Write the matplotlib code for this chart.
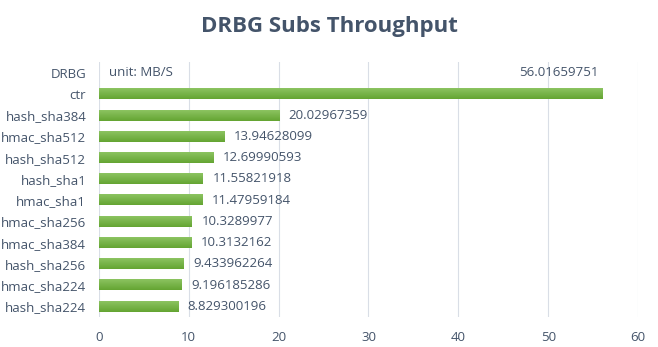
import matplotlib.pyplot as plt
import numpy as np
from matplotlib.colors import LinearSegmentedColormap

categories = ['DRBG', 'ctr', 'hash_sha384', 'hmac_sha512', 'hash_sha512', 'hash_sha1',
              'hmac_sha1', 'hmac_sha256', 'hmac_sha384', 'hash_sha256', 'hmac_sha224',
              'hash_sha224']
values = [np.nan, 56.01659751, 20.02967359, 13.94628099, 12.69990593, 11.55821918,
          11.47959184, 10.3289977, 10.3132162, 9.433962264, 9.196185286, 8.829300196]
labels = ['', '56.01659751', '20.02967359', '13.94628099', '12.69990593', '11.55821918',
          '11.47959184', '10.3289977', '10.3132162', '9.433962264', '9.196185286',
          '8.829300196']

plt.rcParams['font.family'] = ['Open Sans', 'DejaVu Sans']
txt = '#44546A'

fig = plt.figure(figsize=(6.58, 3.47), dpi=100)
ax = fig.add_axes([0.150, 0.0865, 0.820, 0.7345])

y = np.arange(len(categories))
ax.barh(y, values, height=0.5, color='#72AE44', zorder=2)

# dégradé léger sur chaque barre
grad = np.linspace(0, 1, 64).reshape(-1, 1)
cmap = LinearSegmentedColormap.from_list('g', ['#8CC461', '#64A432'])
for yi, v in zip(y, values):
    if np.isnan(v):
        continue
    ax.imshow(grad, cmap=cmap, aspect='auto', extent=(0, v, yi + 0.25, yi - 0.25),
              zorder=3, interpolation='bilinear')

for yi, v, lab in zip(y, values, labels):
    if not lab:
        continue
    if yi == 1:
        ax.annotate(lab, (v, yi - 1), xytext=(-3, 0), textcoords='offset points',
                    ha='right', va='center', fontsize=9.5, color=txt)
    else:
        ax.annotate(lab, (v, yi), xytext=(7, 0), textcoords='offset points',
                    ha='left', va='center', fontsize=9.5, color=txt)

ax.text(1.2, 0, 'unit: MB/S', ha='left', va='center', fontsize=9.5, color=txt)

ax.set_xlim(0, 60)
ax.set_ylim(len(categories) - 0.5, -0.5)
ax.set_xticks(range(0, 61, 10))
ax.set_yticks(y)
ax.set_yticklabels(categories)
ax.tick_params(length=0, labelsize=9.5, colors=txt)
ax.tick_params(axis='x', pad=10)
ax.tick_params(axis='y', pad=9)
ax.grid(axis='x', color='#D9DEE6', linewidth=0.8, zorder=0)
for s in ax.spines.values():
    s.set_visible(False)

fig.text(0.5, 0.925, 'DRBG Subs Throughput', ha='center', va='center',
         fontsize=16, fontweight='bold', color=txt)

plt.savefig('out.png', dpi=100)
